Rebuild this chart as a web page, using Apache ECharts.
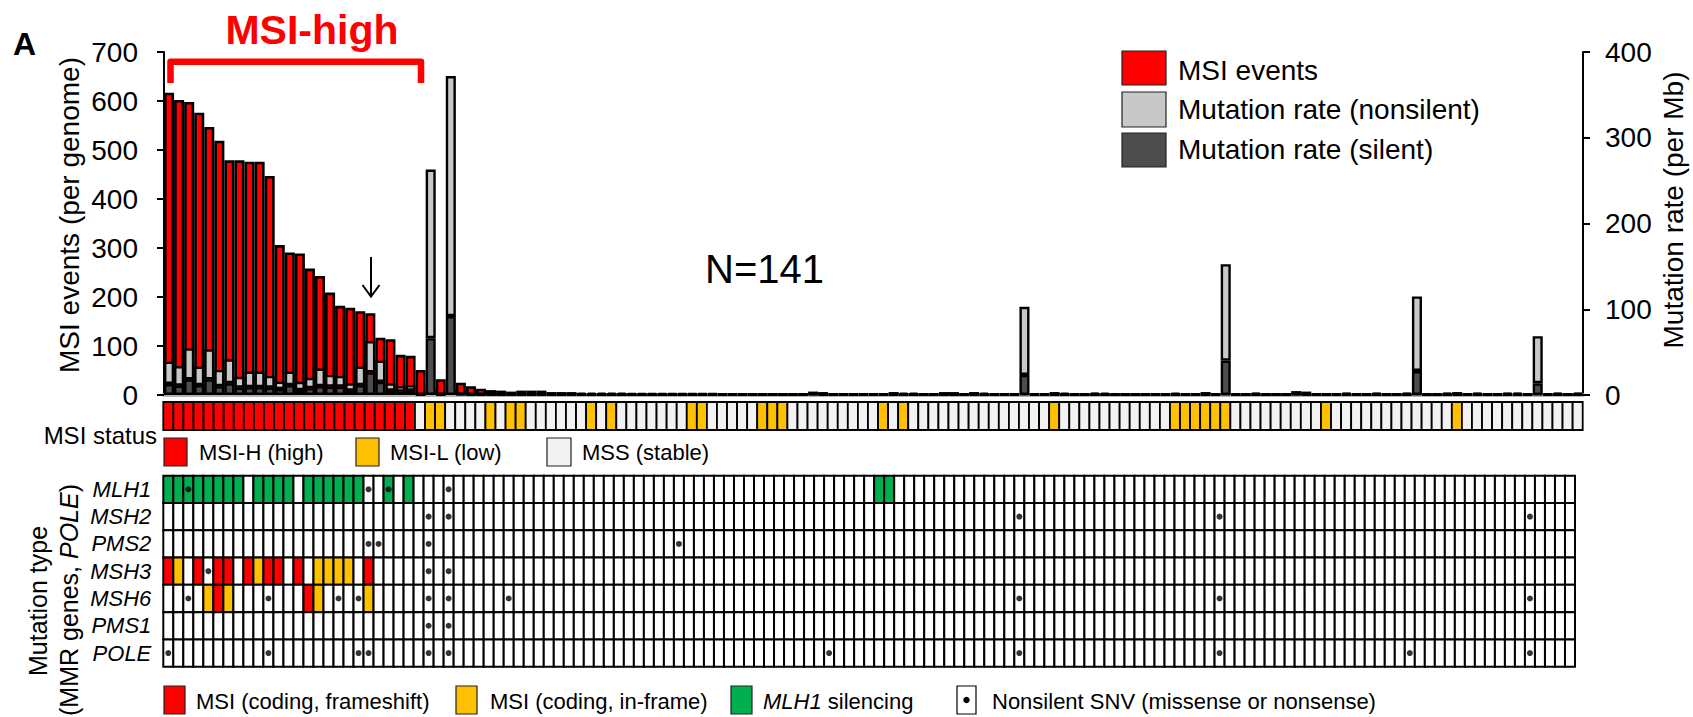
<!DOCTYPE html>
<html><head><meta charset="utf-8">
<script src="https://cdn.jsdelivr.net/npm/echarts@6.0.0/dist/echarts.min.js"></script>
<style>html,body{margin:0;padding:0;background:#fff}#c{width:1693px;height:717px}</style>
</head><body><div id="c"></div>
<script>
// ---------------- DATA ----------------
const sampleCount = 141;
// MSI events per genome (left axis)
const msiEvents = [
 617,602,598,576,547,519,479,479,476,476,
 447,306,291,289,258,243,209,182,178,171,
 167,117,114,82,80,51,12,32,10,25,
 18,13,10,9,7,9,9,9,6,6,
 6,5,5,5,5,5,4,4,4,4,
 4,4,4,4,4,3,3,3,3,3,
 3,3,3,3,7,6,3,3,3,3,
 3,3,6,5,5,3,3,6,6,3,
 6,5,3,3,3,3,3,3,6,5,
 3,3,5,5,3,3,3,3,3,3,
 5,3,3,6,3,3,3,3,5,3,
 3,3,8,7,3,3,3,5,3,3,
 5,3,3,5,3,3,3,5,6,3,
 5,3,3,5,5,3,3,3,5,3,
 5];
// Mutation rate per Mb, silent (right axis)
const rateSilent = [
 12.8,10.9,18.3,11.4,18.3,10.3,13.7,8.6,9.1,9.1,
 8.6,6.9,11.4,5.7,8.0,10.3,9.7,9.7,5.1,11.4,
 26.3,15.4,5.1,4.0,5.1,0.6,66.3,0.6,92.0,0.8,
 0.6,0.5,0.6,0.5,0.5,0.6,0.5,0.5,0.5,0.5,
 0.5,0.4,0.5,0.4,0.5,0.4,0.5,0.4,0.4,0.5,
 0.4,0.5,0.4,0.4,0.5,0.4,0.4,0.5,0.4,0.4,
 0.5,0.4,0.4,0.5,0.8,0.6,0.4,0.5,0.4,0.4,
 0.5,0.4,0.6,0.5,0.4,0.4,0.5,0.6,0.5,0.4,
 0.7,0.5,0.4,0.4,0.5,23.4,0.4,0.5,0.6,0.5,
 0.4,0.4,0.6,0.5,0.4,0.5,0.4,0.4,0.5,0.4,
 0.5,0.4,0.4,0.6,0.4,40.0,0.4,0.5,0.6,0.4,
 0.4,0.5,0.9,0.6,0.4,0.4,0.5,0.6,0.4,0.4,
 0.6,0.4,0.5,0.6,28.0,0.4,0.4,0.6,0.6,0.4,
 0.6,0.4,0.4,0.6,0.6,0.4,13.7,0.4,0.6,0.4,
 0.6];
// Mutation rate per Mb, nonsilent (right axis, stacked on silent)
const rateNonsilent = [
 26.1,22.9,36.0,21.7,34.9,18.9,28.0,12.6,18.3,18.3,
 13.7,8.6,16.0,9.7,12.0,20.6,13.7,12.6,8.6,21.7,
 36.6,24.6,8.6,6.3,6.3,0.6,196.6,1.0,280.0,1.2,
 1.1,1.0,1.2,0.9,1.0,1.1,0.9,1.0,1.2,0.9,
 1.0,0.9,1.1,0.8,1.0,0.9,1.0,0.8,0.9,1.0,
 0.9,1.0,0.8,0.9,1.0,0.8,0.9,1.0,0.8,0.9,
 1.0,0.8,0.9,1.0,1.6,1.2,0.9,1.0,0.8,0.9,
 1.0,0.9,1.3,1.0,0.8,0.9,1.0,1.3,1.1,0.9,
 1.5,1.0,0.8,0.9,1.0,79.4,0.9,1.0,1.3,1.1,
 0.8,0.9,1.2,1.0,0.8,1.0,0.9,0.8,1.0,0.9,
 1.0,0.9,0.8,1.2,0.9,112.6,0.9,1.0,1.2,0.9,
 0.8,1.0,1.8,1.3,0.9,0.8,1.0,1.2,0.9,0.8,
 1.2,0.9,1.0,1.2,86.9,0.9,0.8,1.2,1.3,0.9,
 1.2,0.9,0.8,1.2,1.3,0.9,54.9,0.9,1.2,0.8,
 1.2];
// MSI status per sample: H = MSI-high, L = MSI-low, S = stable
const msiStatus = [
 'HHHHHHHHHHHHHHHHHHHHHHHHH', 'S', 'LL', 'SSSS', 'L', 'S', 'LL', 'SSSSSS', 'L', 'S', 'L',
 'SSSSSSS', 'LL', 'SSSSS', 'LLL', 'SSSSSSSSS', 'L', 'S', 'L', 'SSSSSSSSSSSSSS', 'L',
 'SSSSSSSSSSS', 'LLLLLL', 'SSSSSSSSS', 'L', 'SSSSSSSSSSSS', 'L', 'SSSSSSSSSSSS'
].join('').split('');
// MMR genes / POLE rows
const genes = ['MLH1','MSH2','PMS2','MSH3','MSH6','PMS1','POLE'];
const mlh1Silencing = [0,1,2,3,4,5,6,7,9,10,11,12,14,15,16,17,18,19,22,24,71,72];
const msh3Frameshift = [0,3,5,6,8,10,11,13,20];
const msh3Inframe = [1,9,15,16,17,18];
const msh6Frameshift = [5,14];
const msh6Inframe = [4,6,15,20];
const snvSamples = {
  MLH1: [2,20,22,28],
  MSH2: [26,28,85,105,136],
  PMS2: [20,21,26,51],
  MSH3: [4,26,28],
  MSH6: [2,10,17,19,26,28,34,85,105,136],
  PMS1: [26,28],
  POLE: [0,10,19,20,26,28,66,85,105,124,136]
};
const leftAxisMax = 700, leftAxisStep = 100;
const rightAxisMax = 400, rightAxisStep = 100;

// ---------------- BUILD ----------------
const FONT = '"Liberation Sans", Arial, sans-serif';
const RED = '#ff0000', YEL = '#ffc000', GRN = '#00b050', LGR = '#c8c8c8', DGR = '#4d4d4d', MSS = '#f2f2f2';
const cats = Array.from({length: sampleCount}, (_, i) => 'S' + (i + 1));

const statusCode = {S: 0, H: 1, L: 2};
const statusColor = [MSS, RED, YEL];
const statusData = msiStatus.map((s, i) => [i, 0, statusCode[s]]);

const cellCodes = genes.map(() => new Array(sampleCount).fill(0));
mlh1Silencing.forEach(i => cellCodes[0][i] = 3);
msh3Frameshift.forEach(i => cellCodes[3][i] = 1);
msh3Inframe.forEach(i => cellCodes[3][i] = 2);
msh6Frameshift.forEach(i => cellCodes[4][i] = 1);
msh6Inframe.forEach(i => cellCodes[4][i] = 2);
const cellColor = ['#ffffff', RED, YEL, GRN];
const cellData = [];
genes.forEach((g, gi) => { for (let i = 0; i < sampleCount; i++) cellData.push([i, gi, cellCodes[gi][i]]); });
const dotData = [];
genes.forEach((g, gi) => snvSamples[g].forEach(i => dotData.push([i, gi])));

function cellRenderer(colors, lw) {
  return function (params, api) {
    const c = api.coord([api.value(0), api.value(1)]);
    const s = api.size([1, 1]);
    return {
      type: 'rect',
      shape: {x: c[0] - s[0] / 2, y: c[1] - s[1] / 2, width: s[0], height: s[1]},
      style: {fill: colors[api.value(2)], stroke: '#000', lineWidth: lw}
    };
  };
}

const chart = echarts.init(document.getElementById('c'), null, {renderer: 'svg'});

const G = []; // graphic
function txt(x, y, text, size, opts) {
  G.push(Object.assign({type: 'text', x: x, y: y, z: 100, style: Object.assign({
    text: text, fontSize: size, fontFamily: FONT, fill: '#000',
    textAlign: 'left', textVerticalAlign: 'middle'}, (opts && opts.style) || {})},
    opts && opts.rotation ? {rotation: opts.rotation} : {}));
}
function box(x, y, w, h, fill, stroke) {
  G.push({type: 'rect', z: 100, shape: {x: x, y: y, width: w, height: h}, style: {fill: fill, stroke: stroke || '#222', lineWidth: 1.2}});
}
// Panel letter, title, N
txt(13, 44, 'A', 32, {style: {fontWeight: 'bold'}});
txt(312, 30, 'MSI-high', 41, {style: {fontWeight: 'bold', fill: RED, textAlign: 'center'}});
txt(705, 269, 'N=141', 40);
G.push({type: 'polyline', z: 100, shape: {points: [[170.5, 83], [170.5, 61.7], [421, 61.7], [421, 83]]},
  style: {stroke: RED, lineWidth: 6.5, fill: null, lineJoin: 'round'}});
// arrow
G.push({type: 'polyline', z: 100, shape: {points: [[371, 257], [371, 295]]}, style: {stroke: '#000', lineWidth: 2, fill: null}});
G.push({type: 'polyline', z: 100, shape: {points: [[362.5, 285], [371, 296.5], [379.5, 285]]}, style: {stroke: '#000', lineWidth: 2, fill: null}});
// axis titles
txt(69, 215, 'MSI events (per genome)', 28, {rotation: Math.PI / 2, style: {textAlign: 'center'}});
txt(1673, 210, 'Mutation rate (per Mb)', 28, {rotation: Math.PI / 2, style: {textAlign: 'center'}});
// top legend
box(1122, 51, 44, 34, RED); txt(1178, 70.5, 'MSI events', 28);
box(1122, 92, 44, 35, LGR); txt(1178, 109, 'Mutation rate (nonsilent)', 28);
box(1122, 133, 44, 34, DGR); txt(1178, 149.5, 'Mutation rate (silent)', 28);
// MSI status label and legend
txt(157, 435, 'MSI status', 24, {style: {textAlign: 'right'}});
box(164, 438, 23, 28, RED); txt(199, 452, 'MSI-H (high)', 22);
box(356, 438, 23, 28, YEL); txt(390, 452, 'MSI-L (low)', 22);
box(547, 438, 24, 28, MSS); txt(582, 452, 'MSS (stable)', 22);
// mutation type label
txt(38, 601, 'Mutation type', 25, {rotation: Math.PI / 2, style: {textAlign: 'center'}});
txt(69, 600, '(MMR genes, {i|POLE})', 25, {rotation: Math.PI / 2, style: {textAlign: 'center',
  rich: {i: {fontStyle: 'italic', fontSize: 25, fontFamily: FONT}}}});
// bottom legend
box(164, 686, 21, 28, RED); txt(196, 701, 'MSI (coding, frameshift)', 22);
box(456, 686, 21, 28, YEL); txt(490, 701, 'MSI (coding, in-frame)', 22);
box(731, 686, 21, 28, GRN); txt(763, 701, '{i|MLH1} silencing', 22, {style: {rich: {i: {fontStyle: 'italic', fontSize: 22, fontFamily: FONT}}}});
box(957, 686, 19, 28, '#fff', '#000');
G.push({type: 'circle', z: 101, shape: {cx: 966.5, cy: 700, r: 3.2}, style: {fill: '#000'}});
txt(992, 701, 'Nonsilent SNV (missense or nonsense)', 22);

const barBase = {type: 'bar', xAxisIndex: 0, barCategoryGap: '0%', barGap: '-100%', animation: false};

const option = {
  animation: false,
  backgroundColor: '#fff',
  textStyle: {fontFamily: FONT, color: '#000'},
  grid: [
    {left: 164, right: 110, top: 52, height: 343},
    {left: 163.3, right: 110.3, top: 402, height: 28},
    {left: 163.3, right: 118, top: 475.7, height: 191}
  ],
  xAxis: [
    {type: 'category', gridIndex: 0, data: cats, axisLabel: {show: false}, axisTick: {show: false},
     offset: 2, axisLine: {show: true, lineStyle: {color: '#b4b4b4', width: 4}}},
    {type: 'category', gridIndex: 1, data: cats, show: false},
    {type: 'category', gridIndex: 2, data: cats, show: false}
  ],
  yAxis: [
    {type: 'value', gridIndex: 0, min: 0, max: leftAxisMax, interval: leftAxisStep, position: 'left',
     splitLine: {show: false},
     axisLine: {show: true, lineStyle: {color: '#000', width: 2}},
     axisTick: {show: true, inside: false, length: 7, lineStyle: {color: '#000', width: 2}},
     axisLabel: {fontSize: 28, color: '#000', margin: 26, fontFamily: FONT}},
    {type: 'value', gridIndex: 0, min: 0, max: rightAxisMax, interval: rightAxisStep, position: 'right',
     splitLine: {show: false},
     axisLine: {show: true, lineStyle: {color: '#000', width: 2}},
     axisTick: {show: true, inside: false, length: 7, lineStyle: {color: '#000', width: 2}},
     axisLabel: {fontSize: 28, color: '#000', margin: 22, fontFamily: FONT}},
    {type: 'category', gridIndex: 1, data: ['status'], show: false},
    {type: 'category', gridIndex: 2, data: genes, inverse: true,
     axisLine: {show: false}, axisTick: {show: false}, splitLine: {show: false},
     axisLabel: {interval: 0, hideOverlap: false, fontSize: 22, fontStyle: 'italic', color: '#000', margin: 12, fontFamily: FONT}}
  ],
  series: [
    Object.assign({}, barBase, {name: 'MSI events', yAxisIndex: 0, data: msiEvents,
      itemStyle: {color: RED, borderColor: '#000', borderWidth: 2.6}}),
    Object.assign({}, barBase, {name: 'Mutation rate (silent)', yAxisIndex: 1, stack: 'rate', data: rateSilent,
      itemStyle: {color: DGR, borderColor: '#000', borderWidth: 2.4}}),
    Object.assign({}, barBase, {name: 'Mutation rate (nonsilent)', yAxisIndex: 1, stack: 'rate', data: rateNonsilent,
      itemStyle: {color: LGR, borderColor: '#000', borderWidth: 2.4}}),
    {type: 'custom', name: 'MSI status', xAxisIndex: 1, yAxisIndex: 2, data: statusData,
     encode: {x: 0, y: 1}, renderItem: cellRenderer(statusColor, 1.8), animation: false},
    {type: 'custom', name: 'Mutation type', xAxisIndex: 2, yAxisIndex: 3, data: cellData,
     encode: {x: 0, y: 1}, renderItem: cellRenderer(cellColor, 2), animation: false},
    {type: 'scatter', name: 'Nonsilent SNV', xAxisIndex: 2, yAxisIndex: 3, data: dotData,
     symbol: 'circle', symbolSize: 6, itemStyle: {color: '#000'}, z: 5, animation: false}
  ],
  graphic: G
};
chart.setOption(option);
</script></body></html>
